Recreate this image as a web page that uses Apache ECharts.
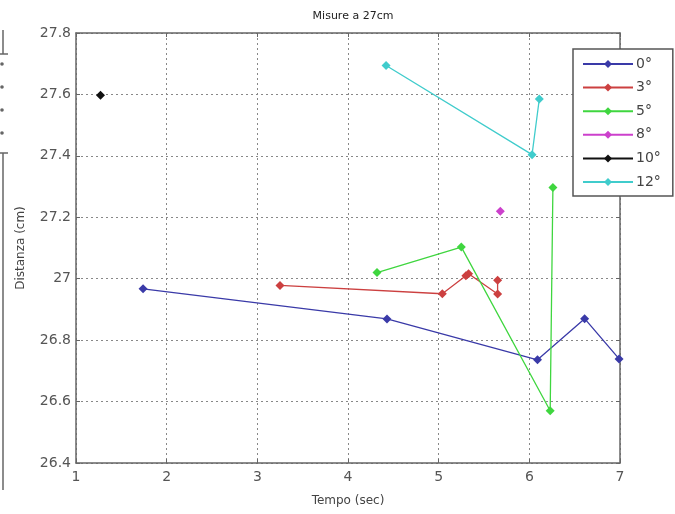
<!DOCTYPE html>
<html>
<head>
<meta charset="utf-8">
<script src="https://cdn.jsdelivr.net/npm/echarts@6/dist/echarts.min.js"></script>
<style>
  html, body { margin: 0; padding: 0; background: #fff; }
  #chart { width: 675px; height: 514px; }
</style>
</head>
<body>
<div id="chart"></div>
<script>
// Distance readings (cm) over time (sec) for each tilt angle
const seriesNames = ['0°', '3°', '5°', '8°', '10°', '12°'];
const t0 = [1.74, 4.43, 6.09, 6.61, 6.99];
const d0 = [26.967, 26.869, 26.736, 26.870, 26.739];
const t3 = [3.25, 5.04, 5.30, 5.33, 5.65, 5.65];
const d3 = [26.978, 26.951, 27.010, 27.016, 26.950, 26.995];
const t5 = [4.32, 5.25, 6.23, 6.26];
const d5 = [27.020, 27.103, 26.570, 27.297];
const t8 = [5.68];
const d8 = [27.220];
const t10 = [1.27];
const d10 = [27.597];
const t12 = [4.42, 6.03, 6.11];
const d12 = [27.694, 27.404, 27.585];

const xTicks = [1, 2, 3, 4, 5, 6, 7];
const yTicks = [26.4, 26.6, 26.8, 27, 27.2, 27.4, 27.6, 27.8];

const colors = ['#3a3aa8', '#cc4040', '#3fd63f', '#cc40cc', '#111111', '#40cccc'];
const times = [t0, t3, t5, t8, t10, t12];
const dists = [d0, d3, d5, d8, d10, d12];

const pair = (xs, ys) => xs.map((x, i) => [x, ys[i]]);

const chart = echarts.init(document.getElementById('chart'));

const font = 'DejaVu Sans, Liberation Sans, sans-serif';
const tickColor = '#555';

const baseX = {
  type: 'value', min: xTicks[0], max: xTicks[xTicks.length - 1], interval: 1,
  axisLine: { show: true, lineStyle: { color: '#666', width: 1.5 } },
  axisTick: { show: true, inside: true, length: 4, lineStyle: { color: '#666' } },
  splitLine: { show: false }
};
const baseY = {
  type: 'value', min: yTicks[0], max: yTicks[yTicks.length - 1], interval: 0.2,
  axisLine: { show: true, lineStyle: { color: '#666', width: 1.5 } },
  axisTick: { show: true, inside: true, length: 4, lineStyle: { color: '#666' } },
  splitLine: { show: false }
};

chart.setOption({
  animation: false,
  backgroundColor: '#fff',
  title: {
    text: 'Misure a 27cm', left: 348, top: 6, textAlign: 'center',
    textStyle: { fontFamily: font, fontSize: 11, fontWeight: 'normal', color: '#222' }
  },
  grid: { left: 76, top: 33, width: 544, height: 430, containLabel: false },
  legend: {
    orient: 'vertical', left: 573, top: 49,
    data: seriesNames,
    backgroundColor: '#fff', borderColor: '#555', borderWidth: 1.5,
    padding: [8, 12, 7, 9],
    itemWidth: 50, itemHeight: 10, itemGap: 9.6,
    textStyle: { fontFamily: font, fontSize: 14, color: '#444', padding: [0, 0, 0, -2] }
  },
  xAxis: [
    Object.assign({}, baseX, {
      position: 'bottom',
      name: 'Tempo (sec)', nameLocation: 'middle', nameGap: 32,
      nameTextStyle: { fontFamily: font, fontSize: 12, color: '#444' },
      axisLabel: { margin: 7, fontFamily: font, fontSize: 14, color: tickColor },
      splitLine: { show: true, lineStyle: { color: '#888', type: [2, 3], width: 1 } }
    }),
    Object.assign({}, baseX, { position: 'top', axisLabel: { show: false } })
  ],
  yAxis: [
    Object.assign({}, baseY, {
      position: 'left',
      name: 'Distanza (cm)', nameLocation: 'middle', nameGap: 49,
      nameTextStyle: { fontFamily: font, fontSize: 12, color: '#444' },
      axisLabel: {
        margin: 5, fontFamily: font, fontSize: 14, color: tickColor,
        formatter: v => String(Math.round(v * 10) / 10)
      },
      splitLine: { show: true, lineStyle: { color: '#888', type: [2, 3], width: 1 } }
    }),
    Object.assign({}, baseY, { position: 'right', axisLabel: { show: false } })
  ],
  series: seriesNames.map((name, i) => ({
    name: name,
    type: 'line',
    xAxisIndex: 0, yAxisIndex: 0,
    data: pair(times[i], dists[i]),
    color: colors[i],
    symbol: 'diamond', symbolSize: 9, showSymbol: true,
    lineStyle: { width: 1.3, color: colors[i] },
    itemStyle: { color: colors[i] },
    emphasis: { disabled: true }
  })),
  graphic: [
    // edge of a neighbouring panel visible at the far left
    { type: 'line', shape: { x1: 3, y1: 30, x2: 3, y2: 54 }, style: { stroke: '#666', lineWidth: 1.5 } },
    { type: 'line', shape: { x1: 0, y1: 54, x2: 8, y2: 54 }, style: { stroke: '#666', lineWidth: 1.5 } },
    { type: 'line', shape: { x1: 0, y1: 153, x2: 8, y2: 153 }, style: { stroke: '#666', lineWidth: 1.5 } },
    { type: 'line', shape: { x1: 3, y1: 153, x2: 3, y2: 490 }, style: { stroke: '#666', lineWidth: 1.5 } },
    { type: 'circle', shape: { cx: 2, cy: 64, r: 1.8 }, style: { fill: '#666' } },
    { type: 'circle', shape: { cx: 2, cy: 87, r: 1.8 }, style: { fill: '#666' } },
    { type: 'circle', shape: { cx: 2, cy: 110, r: 1.8 }, style: { fill: '#666' } },
    { type: 'circle', shape: { cx: 2, cy: 133, r: 1.8 }, style: { fill: '#666' } }
  ]
});
</script>
</body>
</html>
